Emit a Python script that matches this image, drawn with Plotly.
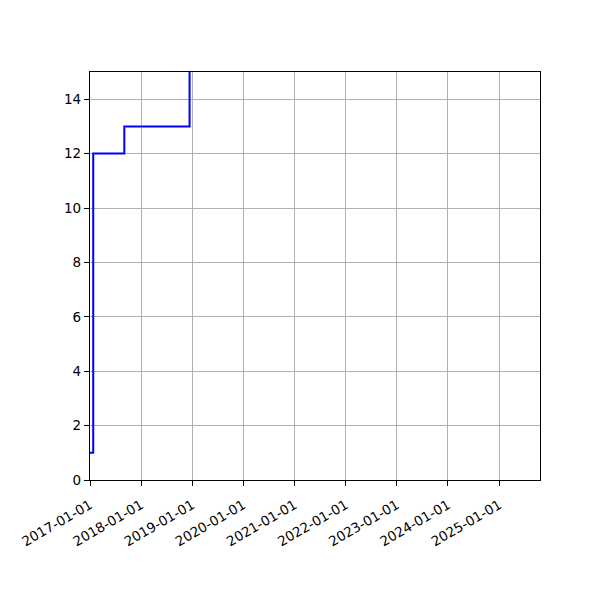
import plotly.graph_objects as go

# step points (value holds until the next date)
dates = ["2017-01-01", "2017-01-24", "2017-09-03", "2018-12-13"]
counts = [1, 12, 13, 30]

year_ticks = [f"{y}-01-01" for y in range(2017, 2026)]
y_ticks = [0, 2, 4, 6, 8, 10, 12, 14]

fig = go.Figure()
fig.add_trace(go.Scatter(x=dates, y=counts, mode="lines", line_shape="hv",
                         line=dict(color="#0000ff", width=2), showlegend=False))

axis_common = dict(showline=True, linecolor="black", linewidth=1.2, mirror=True,
                   showgrid=True, gridcolor="#b0b0b0", gridwidth=1,
                   ticks="outside", ticklen=5, tickwidth=1, tickcolor="black",
                   zeroline=False, tickfont=dict(family="DejaVu Sans", size=13.5, color="black"))

fig.update_xaxes(type="date", range=["2017-01-01", "2025-10-19"],
                 tickvals=year_ticks, ticktext=year_ticks, tickangle=-30,
                 ticklabelstandoff=6, **axis_common)
fig.update_yaxes(range=[0, 15], tickvals=y_ticks, **axis_common)

# page body adds ~8px offset, so margins are trimmed to keep the axes box in place
fig.update_layout(width=600, height=600, plot_bgcolor="white", paper_bgcolor="white",
                  margin=dict(l=82, r=68, t=64, b=128),
                  font=dict(family="DejaVu Sans"))

fig.write_html("out.html")
